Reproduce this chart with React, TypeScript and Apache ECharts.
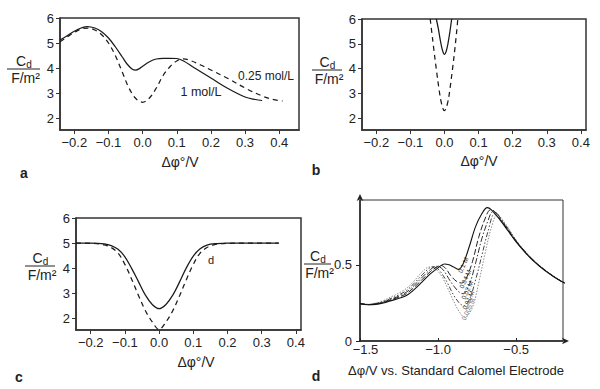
import React, { useEffect, useRef } from "react";
import * as echarts from "echarts";

const FONT = '"Liberation Sans", Arial, Helvetica, sans-serif';

// tick labels
const X_TICKS = [-0.2, -0.1, 0, 0.1, 0.2, 0.3, 0.4];
const Y_TICKS = [2, 3, 4, 5, 6];
const D_X_TICKS = [-1.5, -1.0, -0.5];
const D_Y_TICKS = [0, 0.5];

// panel a : Cd (F/m2) vs Δφ° (V)
const A_SOLID_1M = [
  [-0.242, 5.12], [-0.22, 5.3], [-0.2, 5.47], [-0.18, 5.6], [-0.162, 5.66], [-0.14, 5.6],
  [-0.12, 5.45], [-0.1, 5.2], [-0.08, 4.85], [-0.06, 4.45], [-0.045, 4.15], [-0.03, 3.95],
  [-0.02, 3.92], [-0.01, 3.97], [0.0, 4.07], [0.02, 4.25], [0.04, 4.36], [0.06, 4.39],
  [0.08, 4.39], [0.1, 4.38], [0.12, 4.28], [0.15, 4.02], [0.2, 3.6], [0.25, 3.18],
  [0.3, 2.84], [0.33, 2.74], [0.35, 2.7],
];
const A_DASHED_025M = [
  [-0.242, 5.05], [-0.22, 5.25], [-0.2, 5.42], [-0.18, 5.56], [-0.16, 5.6], [-0.14, 5.52],
  [-0.12, 5.33], [-0.1, 5.0], [-0.08, 4.5], [-0.06, 3.85], [-0.04, 3.2], [-0.02, 2.78],
  [0.0, 2.63], [0.02, 2.8], [0.04, 3.2], [0.06, 3.7], [0.08, 4.05], [0.1, 4.28],
  [0.12, 4.37], [0.14, 4.3], [0.17, 4.12], [0.2, 3.92], [0.25, 3.58], [0.3, 3.2],
  [0.35, 2.88], [0.38, 2.75], [0.41, 2.68],
];

// panel b
const B_SOLID = [
  [-0.024, 6.0], [-0.018, 5.6], [-0.012, 5.12], [-0.006, 4.74], [0.0, 4.57],
  [0.005, 4.7], [0.01, 5.0], [0.016, 5.5], [0.021, 6.0],
];
const B_DASHED = [
  [-0.042, 6.0], [-0.035, 5.2], [-0.028, 4.4], [-0.02, 3.55], [-0.012, 2.8],
  [-0.005, 2.4], [0.0, 2.3], [0.005, 2.4], [0.012, 2.8], [0.02, 3.6],
  [0.028, 4.5], [0.035, 5.4], [0.039, 6.0],
];

// panel c
const C_SOLID = [
  [-0.243, 5.0], [-0.2, 5.0], [-0.16, 4.97], [-0.14, 4.9], [-0.12, 4.75], [-0.1, 4.45],
  [-0.08, 3.98], [-0.06, 3.45], [-0.04, 2.92], [-0.02, 2.55], [0.0, 2.38], [0.02, 2.55],
  [0.04, 2.92], [0.06, 3.45], [0.08, 4.02], [0.1, 4.48], [0.12, 4.77], [0.14, 4.92],
  [0.17, 4.98], [0.2, 5.0], [0.35, 5.0],
];
const C_DASHED = [
  [-0.243, 5.0], [-0.2, 4.99], [-0.16, 4.93], [-0.14, 4.82], [-0.12, 4.6], [-0.1, 4.15],
  [-0.08, 3.55], [-0.06, 2.9], [-0.04, 2.3], [-0.02, 1.85], [0.0, 1.55], [0.02, 1.85],
  [0.04, 2.3], [0.06, 2.9], [0.08, 3.55], [0.1, 4.15], [0.12, 4.6], [0.14, 4.82],
  [0.16, 4.93], [0.2, 4.99], [0.35, 5.0],
];

// panel d : Cd vs Δφ (V vs SCE) for several concentrations
const D_01M = [
  [-1.5, 0.245], [-1.45, 0.238], [-1.4, 0.24], [-1.35, 0.25], [-1.3, 0.265], [-1.25, 0.28],
  [-1.2, 0.3], [-1.15, 0.34], [-1.1, 0.39], [-1.05, 0.44], [-1.0, 0.48], [-0.96, 0.505],
  [-0.93, 0.5], [-0.9, 0.485], [-0.87, 0.47], [-0.84, 0.505], [-0.8, 0.62], [-0.76, 0.75],
  [-0.72, 0.835], [-0.685, 0.875], [-0.66, 0.862], [-0.6, 0.79], [-0.55, 0.72], [-0.5, 0.65],
  [-0.45, 0.59], [-0.4, 0.535], [-0.35, 0.49], [-0.3, 0.45], [-0.25, 0.415], [-0.2, 0.385],
  [-0.17, 0.375],
];
const D_004M = [
  [-1.5, 0.245], [-1.45, 0.238], [-1.4, 0.242], [-1.35, 0.253], [-1.3, 0.27], [-1.25, 0.288],
  [-1.2, 0.312], [-1.15, 0.355], [-1.1, 0.405], [-1.05, 0.455], [-1.0, 0.49], [-0.98, 0.495],
  [-0.95, 0.475], [-0.92, 0.43], [-0.88, 0.39], [-0.85, 0.38], [-0.82, 0.41], [-0.78, 0.52],
  [-0.74, 0.68], [-0.7, 0.8], [-0.665, 0.86], [-0.64, 0.852], [-0.6, 0.795], [-0.55, 0.725],
  [-0.5, 0.652], [-0.45, 0.592], [-0.4, 0.537], [-0.35, 0.492], [-0.3, 0.452], [-0.25, 0.416],
  [-0.2, 0.386], [-0.17, 0.376],
];
const D_002M = [
  [-1.5, 0.245], [-1.45, 0.239], [-1.4, 0.244], [-1.35, 0.256], [-1.3, 0.275], [-1.25, 0.295],
  [-1.2, 0.322], [-1.15, 0.368], [-1.1, 0.42], [-1.05, 0.468], [-1.01, 0.49], [-0.97, 0.47],
  [-0.92, 0.39], [-0.87, 0.325], [-0.84, 0.31], [-0.8, 0.37], [-0.76, 0.51], [-0.72, 0.67],
  [-0.68, 0.79], [-0.65, 0.848], [-0.62, 0.835], [-0.6, 0.8], [-0.55, 0.73], [-0.5, 0.655],
  [-0.45, 0.594], [-0.4, 0.539], [-0.35, 0.493], [-0.3, 0.453], [-0.25, 0.417], [-0.2, 0.386],
  [-0.17, 0.376],
];
const D_001M = [
  [-1.5, 0.245], [-1.45, 0.24], [-1.4, 0.246], [-1.35, 0.26], [-1.3, 0.28], [-1.25, 0.303],
  [-1.2, 0.333], [-1.15, 0.382], [-1.1, 0.436], [-1.06, 0.475], [-1.035, 0.488], [-1.0, 0.472],
  [-0.95, 0.4], [-0.9, 0.3], [-0.86, 0.245], [-0.835, 0.232], [-0.8, 0.27], [-0.76, 0.4],
  [-0.72, 0.56], [-0.68, 0.72], [-0.638, 0.835], [-0.61, 0.822], [-0.6, 0.805], [-0.55, 0.735],
  [-0.5, 0.658], [-0.45, 0.596], [-0.4, 0.541], [-0.35, 0.494], [-0.3, 0.454], [-0.25, 0.418],
  [-0.2, 0.387], [-0.17, 0.377],
];
const D_0005M = [
  [-1.5, 0.245], [-1.45, 0.241], [-1.4, 0.248], [-1.35, 0.265], [-1.3, 0.29], [-1.25, 0.315],
  [-1.2, 0.347], [-1.15, 0.398], [-1.1, 0.455], [-1.056, 0.485], [-1.02, 0.475], [-0.98, 0.43],
  [-0.94, 0.35], [-0.9, 0.26], [-0.86, 0.185], [-0.83, 0.157], [-0.8, 0.18], [-0.77, 0.25],
  [-0.74, 0.38], [-0.7, 0.57], [-0.66, 0.74], [-0.623, 0.826], [-0.6, 0.812], [-0.55, 0.74],
  [-0.5, 0.662], [-0.45, 0.598], [-0.4, 0.543], [-0.35, 0.496], [-0.3, 0.455], [-0.25, 0.419],
  [-0.2, 0.388], [-0.17, 0.378],
];
const D_LABELS = ["0.1 M", "0.04 M", "0.02 M", "0.01 M", "0.005 M"];

const INK = "#222";
const minus = (s: string) => s.replace("-", "\u2212");

function fraction(x1: number, x2: number, ly: number) {
  const mid = (x1 + x2) / 2;
  return [
    { type: "line", shape: { x1, y1: ly, x2, y2: ly }, style: { stroke: INK, lineWidth: 1 } },
    { type: "text", x: mid - 2.5, y: ly - 8, style: { text: "C", fontSize: 14, fontFamily: FONT, fill: INK, align: "center", verticalAlign: "middle" } },
    { type: "text", x: mid + 5.5, y: ly - 5, style: { text: "d", fontSize: 10, fontFamily: FONT, fill: INK, align: "center", verticalAlign: "middle" } },
    { type: "text", x: mid + 2, y: ly + 9, style: { text: "F/m\u00b2", fontSize: 14, fontFamily: FONT, fill: INK, align: "center", verticalAlign: "middle" } },
  ];
}

function txt(text: string, x: number, y: number, fontSize = 13, extra: any = {}) {
  return {
    type: "text", x, y,
    style: { text, fontSize, fontFamily: FONT, fill: INK, align: "center", verticalAlign: "middle", ...extra },
  };
}

function xAxisPhi(i: number, min: number, max: number) {
  return {
    type: "value", gridIndex: i, min, max,
    axisLine: { show: true, onZero: false, lineStyle: { color: "#333", width: 1.5 } },
    axisTick: { show: true, inside: false, length: 4, customValues: X_TICKS, lineStyle: { color: "#333", width: 1 } },
    axisLabel: { customValues: X_TICKS, formatter: (v: number) => minus(v.toFixed(1)), fontSize: 13, fontFamily: FONT, color: INK, margin: 6 },
    splitLine: { show: false },
  };
}
function yAxisCd(i: number, min: number) {
  return {
    type: "value", gridIndex: i, min, max: 6,
    axisLine: { show: true, onZero: false, lineStyle: { color: "#333", width: 1.5 } },
    axisTick: { show: true, inside: false, length: 4, customValues: Y_TICKS, lineStyle: { color: "#333", width: 1 } },
    axisLabel: { customValues: Y_TICKS, formatter: (v: number) => String(v), fontSize: 13, fontFamily: FONT, color: INK, margin: 6 },
    splitLine: { show: false },
  };
}
function ln(i: number, data: number[][], type: any, color = "#1a1a1a", width = 1.25, extra: any = {}) {
  return {
    type: "line", xAxisIndex: i, yAxisIndex: i, data, showSymbol: false, symbol: "none",
    smooth: 0.35, lineStyle: { color, width, type }, ...extra,
  };
}

export default function App() {
  const ref = useRef<HTMLDivElement>(null);
  useEffect(() => {
    const chart = echarts.init(ref.current!, null, { renderer: "svg" });
    const gridStyle = { show: true, borderColor: "#333", borderWidth: 1.5, backgroundColor: "transparent" };
    const option: any = {
      animation: false,
      backgroundColor: "#fff",
      grid: [
        { left: 60, top: 18, width: 239, height: 112, ...gridStyle },
        { left: 362, top: 19, width: 224, height: 111, ...gridStyle },
        { left: 76, top: 218, width: 225, height: 112, ...gridStyle },
        { left: 360, top: 200, width: 203, height: 141, show: true, borderColor: "#333", borderWidth: 1, backgroundColor: "transparent" },
      ],
      xAxis: [
        xAxisPhi(0, -0.242, 0.458),
        xAxisPhi(1, -0.242, 0.415),
        xAxisPhi(2, -0.243, 0.415),
        {
          type: "value", gridIndex: 3, min: -1.5, max: -0.2,
          axisLine: { show: true, onZero: false, symbol: ["none", "arrow"], symbolSize: [5, 7], symbolOffset: [0, 6], lineStyle: { color: "#222", width: 1.5 } },
          axisTick: { show: true, inside: true, length: 3, customValues: D_X_TICKS, lineStyle: { color: "#222" } },
          axisLabel: {
            customValues: D_X_TICKS,
            formatter: (v: number) => (v === -1.5 ? "{s|" + minus(v.toFixed(1)) + "}" : minus(v.toFixed(1))),
            rich: { s: { fontSize: 13, fontFamily: FONT, color: INK, padding: [0, 0, 0, 11] } },
            fontSize: 13, fontFamily: FONT, color: INK, margin: 2,
          },
          splitLine: { show: false },
        },
      ],
      yAxis: [
        yAxisCd(0, 1.52),
        yAxisCd(1, 1.52),
        yAxisCd(2, 1.53),
        {
          type: "value", gridIndex: 3, min: 0, max: 0.925,
          axisLine: { show: true, onZero: false, symbol: ["none", "arrow"], symbolSize: [5, 7], symbolOffset: [0, 6], lineStyle: { color: "#222", width: 1.5 } },
          axisTick: { show: true, inside: false, length: 4, customValues: D_Y_TICKS, lineStyle: { color: "#222" } },
          axisLabel: { customValues: D_Y_TICKS, formatter: (v: number) => (v === 0 ? "0" : v.toFixed(1)), fontSize: 13, fontFamily: FONT, color: INK, margin: 8 },
          splitLine: { show: false },
        },
      ],
      series: [
        ln(0, A_SOLID_1M, "solid"),
        ln(0, A_DASHED_025M, [5, 4]),
        ln(1, B_SOLID, "solid", "#1a1a1a", 1.25, { smooth: 0.25 }),
        ln(1, B_DASHED, [5, 4], "#1a1a1a", 1.25, { smooth: 0.25 }),
        ln(2, C_SOLID, "solid"),
        ln(2, C_DASHED, [5, 4]),
        ln(3, D_0005M, [1.5, 1.5], "#8a8a8a", 1, { clip: false }),
        ln(3, D_001M, [5, 2, 1.5, 2, 1.5, 2], "#444", 1, { clip: false }),
        ln(3, D_002M, [6, 2, 1.5, 2], "#333", 1, { clip: false }),
        ln(3, D_004M, [6, 2.5], "#222", 1, { clip: false }),
        ln(3, D_01M, "solid", "#111", 1.1, { clip: false }),
      ],
      graphic: [
        ...fraction(7, 40, 69),
        ...fraction(312, 342, 70),
        ...fraction(25, 55, 266),
        ...fraction(304, 331, 264),
        txt("\u0394\u03c6\u00b0/V", 180, 162, 14),
        txt("\u0394\u03c6\u00b0/V", 479, 161, 14),
        txt("\u0394\u03c6\u00b0/V", 196, 362, 14),
        txt("\u0394\u03c6/V vs. Standard Calomel Electrode", 456, 370, 13),
        txt("0.25 mol/L", 266, 75.5, 12),
        txt("1 mol/L", 201, 91.5, 12.5),
        txt("d", 211, 260, 11),
        txt("a", 24, 173, 14, { fontWeight: "bold" }),
        txt("b", 316, 170, 14, { fontWeight: "bold" }),
        txt("c", 19, 377, 14, { fontWeight: "bold" }),
        txt("d", 316, 376, 14, { fontWeight: "bold" }),
        ...D_LABELS.map((t, k) => ({
          type: "text",
          x: [463, 465, 467, 468, 468][k],
          y: [265, 279, 290, 300, 309][k],
          rotation: 1.15,
          style: { text: t, fontSize: 6.5, fontFamily: FONT, fill: k === 4 ? "#777" : "#333", align: "center", verticalAlign: "middle" },
        })),
      ],
    };
    chart.setOption(option);
    return () => chart.dispose();
  }, []);
  return (
    <div
      ref={ref}
      style={{ position: "absolute", left: 0, top: 0, width: 600, height: 389, background: "#fff" }}
    />
  );
}
